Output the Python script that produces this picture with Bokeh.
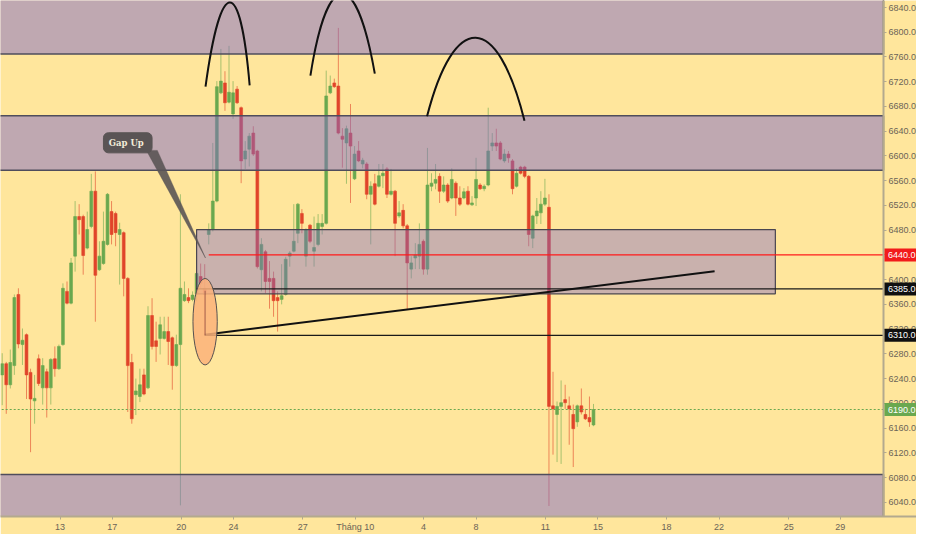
from bokeh.plotting import figure
from bokeh.models import Range1d, FixedTicker, ColumnDataSource, PrintfTickFormatter
from bokeh.core.properties import value
from bokeh.embed import file_html
from bokeh.resources import INLINE

# ---------------- data (4h candles, x = candle number) ----------------
candle_open = [6246, 6264, 6230, 6261, 6376, 6295, 6311, 6250, 6204, 6272,
               6225, 6251, 6225, 6272, 6256, 6295, 6381, 6362, 6438, 6502,
               6502, 6451, 6486, 6543, 6416, 6426, 6457, 6510, 6507, 6473,
               6476, 6402, 6266, 6214, 6211, 6246, 6225, 6342, 6301, 6305,
               6305, 6316, 6306, 6261, 6295, 6366, 6371, 6368, 6377, 6405,
               6386, 6473, 6481, 6527, 6702, 6718, 6687, 6668, 6708, 6678,
               6595, 6611, 6637, 6608, 6416, 6445, 6402, 6402, 6371, 6368,
               6376, 6438, 6446, 6475, 6507, 6438, 6488, 6446, 6457, 6486,
               6491, 6702, 6718, 6713, 6632, 6621, 6637, 6563, 6608, 6587,
               6587, 6538, 6555, 6551, 6568, 6579, 6538, 6543, 6503, 6512,
               6487, 6417, 6435, 6438, 6462, 6417, 6551, 6556, 6567, 6543,
               6553, 6532, 6556, 6532, 6532, 6543, 6521, 6532, 6553, 6547,
               6553, 6616, 6621, 6621, 6592, 6603, 6592, 6551, 6582, 6582,
               6567, 6467, 6503, 6508, 6522, 6517, 6196, 6182, 6195, 6206,
               6196, 6182, 6170, 6196, 6182, 6177, 6165]
candle_high = [6281, 6267, 6287, 6376, 6386, 6321, 6313, 6256, 6246, 6279,
               6273, 6256, 6273, 6292, 6295, 6394, 6397, 6435, 6527, 6522,
               6505, 6510, 6571, 6575, 6462, 6510, 6540, 6527, 6510, 6492,
               6478, 6404, 6280, 6240, 6256, 6256, 6357, 6370, 6332, 6340,
               6340, 6340, 6308, 6311, 6538, 6397, 6386, 6381, 6413, 6426,
               6425, 6491, 6621, 6721, 6773, 6737, 6778, 6721, 6713, 6680,
               6624, 6637, 6648, 6610, 6467, 6448, 6430, 6413, 6381, 6425,
               6437, 6446, 6522, 6524, 6514, 6483, 6490, 6502, 6506, 6506,
               6738, 6730, 6725, 6807, 6645, 6649, 6684, 6616, 6624, 6597,
               6590, 6559, 6571, 6587, 6587, 6582, 6579, 6545, 6527, 6522,
               6490, 6438, 6459, 6491, 6465, 6613, 6572, 6587, 6572, 6567,
               6556, 6580, 6559, 6551, 6548, 6551, 6535, 6597, 6556, 6554,
               6678, 6637, 6644, 6624, 6611, 6608, 6595, 6580, 6584, 6584,
               6569, 6505, 6532, 6543, 6563, 6538, 6251, 6203, 6237, 6230,
               6211, 6198, 6198, 6224, 6191, 6211, 6199]
candle_low = [6197, 6183, 6224, 6246, 6289, 6262, 6207, 6121, 6167, 6228,
              6198, 6177, 6198, 6243, 6254, 6293, 6360, 6360, 6413, 6473,
              6408, 6449, 6483, 6332, 6414, 6424, 6455, 6457, 6454, 6392,
              6373, 6186, 6167, 6181, 6202, 6213, 6223, 6287, 6267, 6279,
              6303, 6262, 6222, 6259, 6035, 6364, 6362, 6365, 6365, 6386,
              6310, 6457, 6478, 6525, 6700, 6673, 6685, 6660, 6684, 6556,
              6579, 6583, 6600, 6418, 6381, 6378, 6353, 6340, 6316, 6360,
              6374, 6421, 6444, 6459, 6475, 6421, 6459, 6421, 6454, 6473,
              6489, 6700, 6710, 6635, 6581, 6555, 6524, 6561, 6590, 6580,
              6530, 6457, 6520, 6549, 6548, 6532, 6536, 6438, 6500, 6483,
              6352, 6402, 6417, 6417, 6408, 6408, 6543, 6546, 6524, 6540,
              6524, 6530, 6503, 6519, 6530, 6520, 6519, 6519, 6545, 6543,
              6551, 6608, 6608, 6593, 6589, 6589, 6538, 6549, 6570, 6564,
              6454, 6451, 6490, 6490, 6519, 6034, 6117, 6105, 6102, 6191,
              6133, 6097, 6162, 6182, 6173, 6162, 6163]
candle_close = [6264, 6230, 6266, 6371, 6296, 6302, 6246, 6207, 6208, 6232,
                6261, 6225, 6271, 6256, 6292, 6386, 6362, 6427, 6502, 6497,
                6439, 6481, 6543, 6407, 6438, 6462, 6538, 6473, 6476, 6481,
                6402, 6261, 6175, 6220, 6230, 6215, 6342, 6292, 6292, 6327,
                6316, 6300, 6261, 6295, 6386, 6376, 6366, 6375, 6410, 6394,
                6376, 6481, 6527, 6712, 6721, 6686, 6703, 6702, 6686, 6592,
                6608, 6632, 6603, 6421, 6457, 6397, 6397, 6366, 6366, 6374,
                6433, 6443, 6462, 6522, 6491, 6481, 6462, 6452, 6491, 6491,
                6697, 6713, 6712, 6637, 6627, 6644, 6616, 6603, 6592, 6593,
                6538, 6551, 6522, 6568, 6572, 6538, 6543, 6491, 6508, 6487,
                6427, 6427, 6440, 6457, 6417, 6553, 6556, 6562, 6543, 6553,
                6527, 6562, 6532, 6522, 6542, 6522, 6524, 6562, 6547, 6551,
                6608, 6621, 6616, 6595, 6603, 6597, 6547, 6572, 6572, 6567,
                6473, 6503, 6511, 6522, 6532, 6195, 6191, 6195, 6201, 6201,
                6191, 6159, 6196, 6186, 6175, 6170, 6190]
candle_idx = list(range(len(candle_open)))

tick_idx = [14.3, 27.2, 44.2, 57.1, 74.2, 87.2, 104.0, 117.0, 134.1, 147.1, 164.0, 177.0, 194.2, 206.9]
tick_labels = ["13", "17", "20", "24", "27", "Tháng 10", "4", "8", "11", "15", "18", "22", "25", "29"]
price_ticks = list(range(6000, 6841, 40))

# drawn zones (price bands)
zone_bottom = [6765, 6577, 6000]
zone_top = [6950, 6665, 6085]

# gap box
gapbox_idx = [48.0, 190.9]
gapbox_price = [6377, 6481]

# horizontal levels
level_price = [6440, 6385, 6310, 6190]
level_from_idx = [51.0, 48.0, 50.0, -10.0]
level_label = ["6440.0", "6385.0", "6310.0", "6190.0"]

# trend line
trend_idx = [50.0, 175.9]
trend_price = [6311, 6413.5]

# ellipse around the gap candle
ellipse_idx = 50.1
ellipse_price = 6332
ellipse_w_idx = 6.0
ellipse_h_price = 140

# three tops (arcs): start, peak, end
arc_x0 = [50.2, 76.1, 104.9]
arc_y0 = [6712, 6730, 6664]
arc_xp = [56.2, 83.9, 116.9]
arc_yp = [6848, 6862, 6791]
arc_x1 = [61.1, 92.0, 128.96]
arc_y1 = [6714, 6733, 6657]

# callout
callout_text = "Gap  Up"
callout_box_idx = [25.0, 37.0]
callout_box_price = [6605, 6637.5]
callout_tip = (50.2, 6435)

# ---------------- styles ----------------
BG = "#ffe69c"
UP = "#6aa84f"
DOWN = "#e0442a"
ZONE = "#7f69c6"
EDGE = "#4f4d5c"
AXIS = "#b3a98e"
TXT = "#6b6457"
FONT = "Liberation Sans"

X0, X1 = -0.42, 225.75     # view in candle numbers
AX = 217.6                 # price scale position (candle number)
Y0, Y1 = 6017, 6851.35

p = figure(frame_width=916, frame_height=516,
           x_range=Range1d(X0, X1), y_range=Range1d(Y0, Y1),
           output_backend="svg", toolbar_location=None,
           y_axis_location="right",
           min_border_left=0, min_border_top=0, min_border_right=0, min_border_bottom=0)
p.background_fill_color = BG
p.border_fill_color = BG
p.outline_line_color = None
p.grid.visible = False

# candles
colors = [UP if c >= o else DOWN for o, c in zip(candle_open, candle_close)]
src = ColumnDataSource(dict(
    x=candle_idx, hi=candle_high, lo=candle_low,
    top=[max(o, c) for o, c in zip(candle_open, candle_close)],
    bot=[min(o, c) for o, c in zip(candle_open, candle_close)],
    color=colors))
p.segment(x0="x", y0="lo", x1="x", y1="hi", color="color", line_alpha=0.6, line_width=1, source=src)
p.vbar(x="x", width=0.7, top="top", bottom="bot", fill_color="color", line_color="color",
       line_width=0.6, source=src)

# zones
p.quad(left=[X0 - 20] * 3, right=[AX] * 3, bottom=zone_bottom, top=zone_top,
       fill_color=ZONE, fill_alpha=0.5, line_color=EDGE, line_width=1.5)

# gap box
p.quad(left=[gapbox_idx[0]], right=[gapbox_idx[1]], bottom=[gapbox_price[0]], top=[gapbox_price[1]],
       fill_color=ZONE, fill_alpha=0.42, line_color="#4a4650", line_width=1.2)

# levels
level_colors = ["#ff1a1a", "#1a1a1a", "#1a1a1a", UP]
level_dash = ["solid", "solid", "solid", "2 2"]
for lp, lx, lc, ld in zip(level_price, level_from_idx, level_colors, level_dash):
    p.line([lx, AX], [lp, lp], line_color=lc, line_width=1.2, line_dash=ld)

# trend line
p.line(trend_idx, trend_price, line_color="#111111", line_width=2)

# ellipse
p.ellipse(x=[ellipse_idx], y=[ellipse_price], width=[ellipse_w_idx], height=[ellipse_h_price],
          fill_color="#fbb27a", fill_alpha=0.85, line_color="#555050", line_width=1)
p.line([ellipse_idx, ellipse_idx], [candle_low[50], ellipse_price + 50], line_color="#6a3030",
       line_width=1, line_alpha=0.6)

# arcs (cubic bezier through the peak)
k = 0.28
cx0, cy0, cx1, cy1 = [], [], [], []
for x0, y0, xp, yp, x1, y1 in zip(arc_x0, arc_y0, arc_xp, arc_yp, arc_x1, arc_y1):
    base = (y0 + y1) / 2.0
    cy = base + 4.0 / 3.0 * (yp - base)
    d = 4.0 / 3.0 * (xp - (x0 + x1) / 2.0)
    w = x1 - x0
    cx0.append(x0 + k * w + d)
    cx1.append(x1 - k * w + d)
    cy0.append(cy)
    cy1.append(cy)
p.bezier(x0=arc_x0, y0=arc_y0, x1=arc_x1, y1=arc_y1, cx0=cx0, cy0=cy0, cx1=cx1, cy1=cy1,
         line_color="#111111", line_width=2)

# callout
CALL = "#5a5455"
p.patch([35.6, 38.3, callout_tip[0]], [6609, 6609, callout_tip[1]],
        fill_color=CALL, fill_alpha=0.9, line_color=CALL, line_alpha=0.4, line_width=1)
p.quad(left=[callout_box_idx[0]], right=[callout_box_idx[1]],
       bottom=[callout_box_price[0]], top=[callout_box_price[1]],
       fill_color=CALL, line_color=CALL, border_radius=5)
p.text(x=[(callout_box_idx[0] + callout_box_idx[1]) / 2], y=[(callout_box_price[0] + callout_box_price[1]) / 2],
       text=[callout_text], text_font=value("DejaVu Serif"), text_font_size="8.5px", text_font_style="bold",
       text_color="#f3ecd9", text_align="center", text_baseline="middle")

# axes
p.xaxis.ticker = FixedTicker(ticks=tick_idx)
p.xaxis.major_label_overrides = {t: l for t, l in zip(tick_idx, tick_labels)}
p.yaxis.ticker = FixedTicker(ticks=price_ticks)
p.yaxis.formatter = PrintfTickFormatter(format="%.1f")
p.yaxis.fixed_location = AX
for ax in (p.xaxis[0], p.yaxis[0]):
    ax.axis_line_color = AXIS
    ax.axis_line_width = 2
    ax.major_tick_line_color = AXIS
    ax.major_tick_out = 3
    ax.major_tick_in = 0
    ax.minor_tick_line_color = None
    ax.major_label_text_font = FONT
    ax.major_label_text_font_size = "9px"
    ax.major_label_text_color = TXT
    ax.major_label_standoff = 2

# price labels on the price scale (drawn above the scale)
px_per_price = 516.0 / (Y1 - Y0)
half_h = 6.5 / px_per_price
label_bg = ["#f21b1b", "#101010", "#101010", UP]
p.quad(left=[AX + 0.25] * 4, right=[X1 + 5] * 4,
       bottom=[lp - half_h for lp in level_price], top=[lp + half_h for lp in level_price],
       fill_color=label_bg, line_color=None, level="overlay")
p.text(x=[AX + 1.1] * 4, y=level_price, text=level_label, text_font=value(FONT), text_font_size="9px",
       text_color="white", text_align="left", text_baseline="middle", level="overlay")

open("out.html", "w").write(file_html(p, INLINE))
